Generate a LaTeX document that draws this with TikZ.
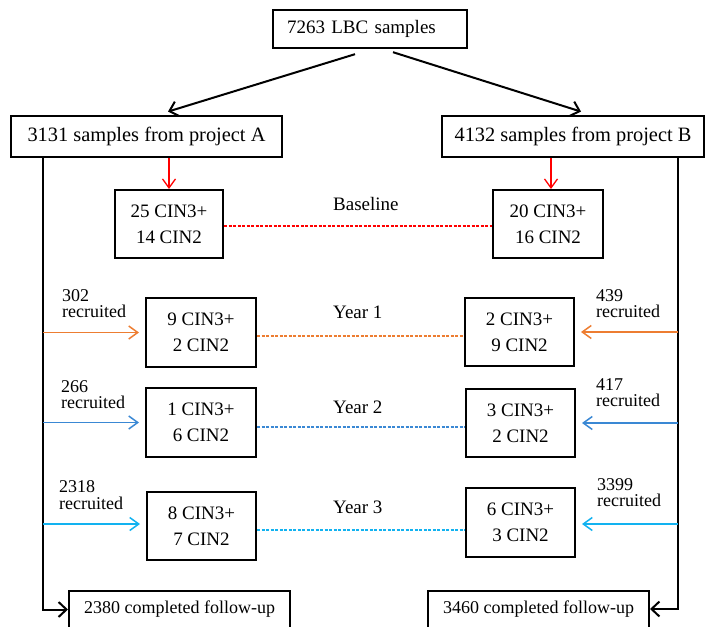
\documentclass[tikz,border=0pt]{standalone}
\usepackage{fontspec}
\setmainfont{Liberation Serif}
\usetikzlibrary{arrows.meta}
\definecolor{orng}{HTML}{ED7D31}
\definecolor{blu}{HTML}{3A88D4}
\definecolor{lblu}{HTML}{12B2F0}
\definecolor{rd}{HTML}{FF0000}
\begin{document}
\begin{tikzpicture}[x=1pt,y=-1pt,
  bigbox/.style={draw, line width=2.8pt, inner sep=0pt, font=\fontsize{20.4}{24}\selectfont, minimum height=41pt},
  topbox/.style={draw, line width=2.4pt, inner ysep=0pt, inner xsep=14pt, text width=166pt, align=left, minimum height=38pt, font=\fontsize{19}{24}\selectfont},
  cinbox/.style={draw, line width=2pt, inner sep=0pt, align=center, minimum width=109pt, minimum height=68pt, font=\fontsize{19}{26}\selectfont},
  endbox/.style={draw, line width=2pt, inner sep=0pt, minimum width=221pt, minimum height=37pt, font=\fontsize{18}{22}\selectfont},
  rec/.style={inner sep=0pt, anchor=west, align=left, font=\fontsize{18}{16.5}\selectfont},
  yr/.style={inner sep=0pt, anchor=west, font=\fontsize{19}{22}\selectfont},
  blk/.style={line width=2pt, -{Straight Barb[length=8pt,width=15pt,line width=2pt]}},
  carr/.style={line width=1.6pt, shorten >=6pt, -{Straight Barb[length=9pt,width=13pt,line width=1.5pt]}},
  dsh/.style={line width=1.3pt, dash pattern=on 3pt off 1.5pt}]
\useasboundingbox (0,0) rectangle (706,626);

\node[topbox] (top) at (370,29) {7263 LBC samples};
\node[bigbox, minimum width=271pt] (A) at (146.5,136.5) {3131 samples from project A};
\node[bigbox, minimum width=262pt] (B) at (573,136.5) {4132 samples from project B};

\node[cinbox, minimum width=108pt] (b0A) at (169,224) {25 CIN3+\\14 CIN2};
\node[cinbox, minimum width=110pt] (b0B) at (548,224) {20 CIN3+\\16 CIN2};
\node[cinbox, minimum width=110pt, minimum height=69pt] (b1A) at (201,332.5) {9 CIN3+\\2 CIN2};
\node[cinbox] (b1B) at (519.5,332) {2 CIN3+\\9 CIN2};
\node[cinbox, minimum width=110pt, minimum height=69pt] (b2A) at (201,422.5) {1 CIN3+\\6 CIN2};
\node[cinbox] (b2B) at (520.5,423) {3 CIN3+\\2 CIN2};
\node[cinbox] (b3A) at (201.5,526) {8 CIN3+\\7 CIN2};
\node[cinbox, minimum height=69pt] (b3B) at (520.5,522.5) {6 CIN3+\\3 CIN2};

\node[endbox] (eA) at (179.5,609.5) {2380 completed follow-up};
\node[endbox] (eB) at (538.5,609) {3460 completed follow-up};

\node[yr] (l0) at (333,204) {Baseline};
\node[yr] (l1) at (333,312) {Year 1};
\node[yr] (l2) at (333,407) {Year 2};
\node[yr] (l3) at (333,507) {Year 3};

\node[rec] (r1A) at (62,303.5) {302\\recruited};
\node[rec] (r2A) at (61,394.5) {266\\recruited};
\node[rec] (r3A) at (59,495) {2318\\recruited};
\node[rec] (r1B) at (596,303.5) {439\\recruited};
\node[rec] (r2B) at (596,392.5) {417\\recruited};
\node[rec] (r3B) at (597,492.5) {3399\\recruited};

\coordinate (LT) at (43,157);
\coordinate (RT) at (678,157);

% top arrows
\draw[blk] ([xshift=-15pt,yshift=-5pt]top.south) -- ([xshift=21.5pt,yshift=3pt]A.north);
\draw[blk] ([xshift=23pt,yshift=-3pt]top.south) -- ([xshift=8pt,yshift=3pt]B.north);

% red arrows
\draw[rd, line width=1.3pt, -{Straight Barb[length=9pt,width=13pt,line width=1.3pt]}] (b0A.north |- A.south) -- (b0A.north);
\draw[rd, line width=1.3pt, -{Straight Barb[length=9pt,width=13pt,line width=1.3pt]}] ([xshift=3pt]b0B.north |- B.south) -- ([xshift=3pt]b0B.north);

% side lines
\draw[blk] (LT) |- (eA.west);
\draw[blk] (RT) |- (eB.east);

% colored arrows
\draw[carr, orng] (b1A.west -| LT) -- (b1A.west);
\draw[carr, blu] (b2A.west -| LT) -- (b2A.west);
\draw[carr, lblu] ([yshift=2pt]b3A.west -| LT) -- ([yshift=2pt]b3A.west);
\draw[carr, orng] (b1B.east -| RT) -- (b1B.east);
\draw[carr, blu] (b2B.east -| RT) -- (b2B.east);
\draw[carr, lblu] ([yshift=-1.5pt]b3B.east -| RT) -- ([yshift=-1.5pt]b3B.east);

% dashed
\draw[dsh, rd] ([yshift=-2pt]b0A.east) -- ([yshift=-2pt]b0A.east -| b0B.west);
\draw[dsh, orng] ([yshift=-3.5pt]b1A.east) -- ([yshift=-3.5pt]b1A.east -| b1B.west);
\draw[dsh, blu] ([yshift=-4.5pt]b2A.east) -- ([yshift=-4.5pt]b2A.east -| b2B.west);
\draw[dsh, lblu] ([yshift=-4pt]b3A.east) -- ([yshift=-4pt]b3A.east -| b3B.west);
\end{tikzpicture}
\end{document}
